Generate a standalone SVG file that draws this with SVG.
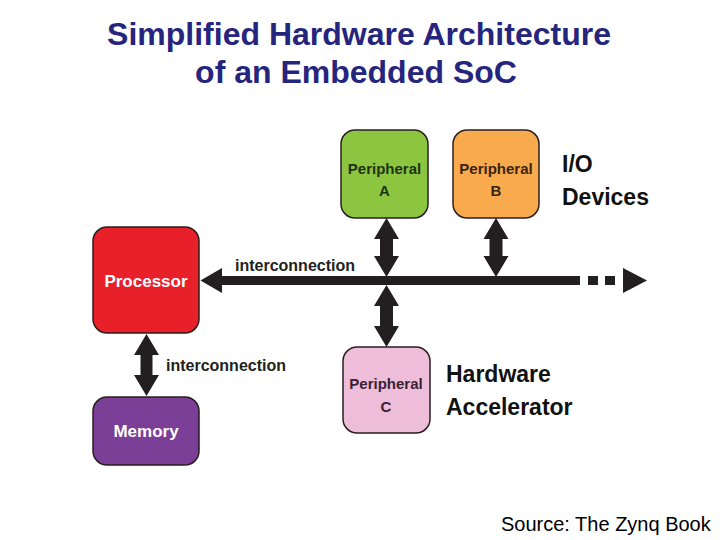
<svg xmlns="http://www.w3.org/2000/svg" width="720" height="540" viewBox="0 0 720 540">
  <style>
    .box { stroke: #2a1f1f; stroke-width: 1.5; }
    .lbl { font-family: "Liberation Sans", Arial, sans-serif; font-weight: bold; text-anchor: middle; }
    .node-w { font-size: 17px; fill: #ffffff; }
    .node-p { font-size: 15px; }
    .title { font-family: "Liberation Sans", Arial, sans-serif; font-weight: bold; font-size: 32px; fill: #25257e; text-anchor: middle; }
    .note { font-family: "Liberation Sans", Arial, sans-serif; font-weight: bold; font-size: 23px; fill: #111111; }
    .link { font-family: "Liberation Sans", Arial, sans-serif; font-weight: bold; font-size: 16px; fill: #231f20; }
    .arrow { fill: #231f20; }
    .src { font-family: "Liberation Sans", Arial, sans-serif; font-size: 20px; fill: #000000; }
  </style>
  <rect width="720" height="540" fill="#ffffff"/>

  <g id="title">
    <text class="title" x="359" y="45">Simplified Hardware Architecture</text>
    <text class="title" x="356" y="83">of an Embedded SoC</text>
  </g>

  <g id="connectors">
    <!-- bus -->
    <polygon class="arrow" points="200.5,280.5 222,268 222,293"/>
    <rect class="arrow" x="221" y="276" width="359" height="9"/>
    <rect class="arrow" x="588" y="276" width="10" height="9"/>
    <rect class="arrow" x="605" y="276" width="10" height="9"/>
    <polygon class="arrow" points="623,268 647,280.5 623,293"/>
    <!-- Peripheral A to bus -->
    <path class="arrow" d="M386.5,218 L399,239 L393,239 L393,256 L399,256 L386.5,277 L374,256 L380,256 L380,239 L374,239 Z"/>
    <!-- bus to Peripheral C -->
    <path class="arrow" d="M386.5,285 L399,306 L393,306 L393,326 L399,326 L386.5,347 L374,326 L380,326 L380,306 L374,306 Z"/>
    <!-- Peripheral B to bus -->
    <path class="arrow" d="M496,218 L508.5,239 L502.5,239 L502.5,256 L508.5,256 L496,277 L483.5,256 L489.5,256 L489.5,239 L483.5,239 Z"/>
    <!-- Processor to Memory -->
    <path class="arrow" d="M146.5,334 L159,355 L152.5,355 L152.5,375 L159,375 L146.5,396 L134,375 L140.5,375 L140.5,355 L134,355 Z"/>
    <text class="link" x="235" y="270.5">interconnection</text>
    <text class="link" x="166" y="370.5">interconnection</text>
  </g>

  <g id="processor">
    <rect class="box" x="93" y="227" width="106" height="106" rx="14" fill="#e8202a"/>
    <text class="lbl node-w" x="146" y="287">Processor</text>
  </g>

  <g id="memory">
    <rect class="box" x="93" y="397" width="106" height="68" rx="14" fill="#7b3f98"/>
    <text class="lbl node-w" x="146" y="437">Memory</text>
  </g>

  <g id="peripheral-a">
    <rect class="box" x="341" y="130" width="87" height="88" rx="14" fill="#8cc540"/>
    <text class="lbl node-p" x="384.5" y="174" fill="#1e3316">Peripheral</text>
    <text class="lbl node-p" x="384.5" y="196" fill="#1e3316">A</text>
  </g>

  <g id="peripheral-b">
    <rect class="box" x="453" y="130" width="86" height="88" rx="14" fill="#f8aa4c"/>
    <text class="lbl node-p" x="496" y="174" fill="#3a2410">Peripheral</text>
    <text class="lbl node-p" x="496" y="196" fill="#3a2410">B</text>
  </g>

  <g id="peripheral-c">
    <rect class="box" x="343" y="347" width="87" height="86" rx="14" fill="#eebdd9"/>
    <text class="lbl node-p" x="386" y="389" fill="#3a2236">Peripheral</text>
    <text class="lbl node-p" x="386" y="412" fill="#3a2236">C</text>
  </g>

  <g id="annotations">
    <text class="note" x="562" y="172">I/O</text>
    <text class="note" x="562" y="205">Devices</text>
    <text class="note" x="446" y="381.5">Hardware</text>
    <text class="note" x="446" y="415">Accelerator</text>
    <text class="src" x="501" y="531">Source: The Zynq Book</text>
  </g>
</svg>
